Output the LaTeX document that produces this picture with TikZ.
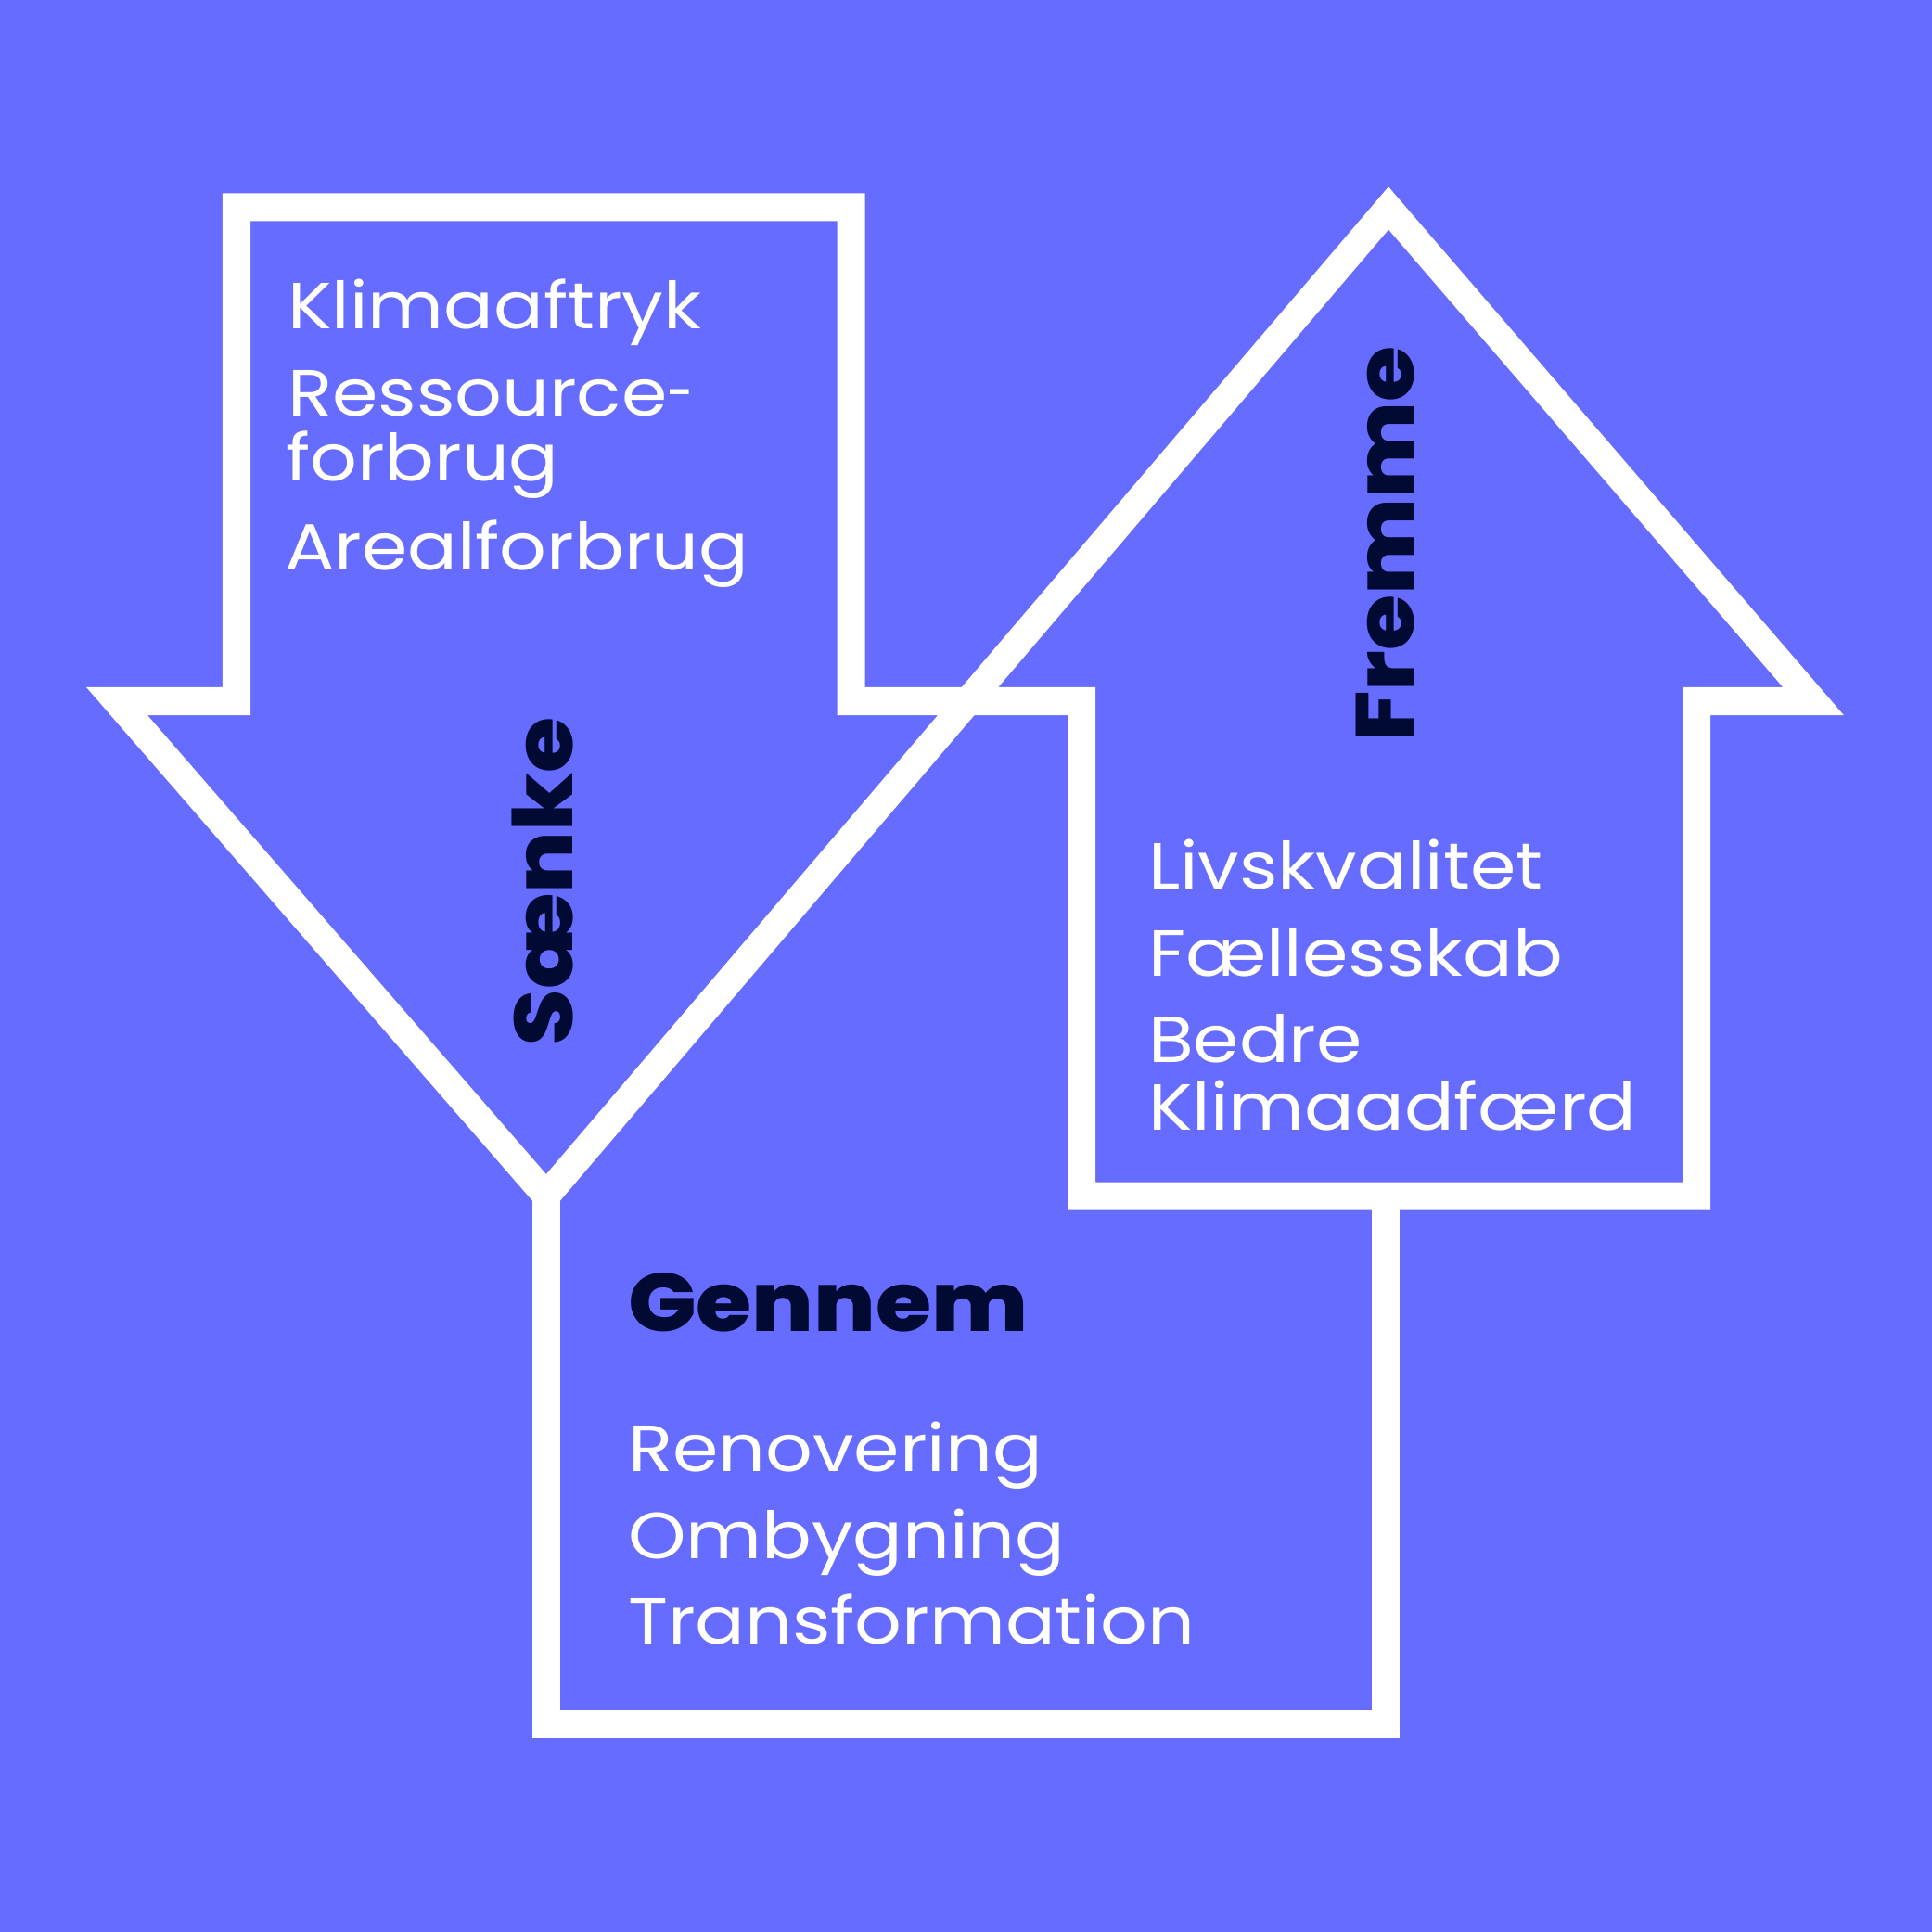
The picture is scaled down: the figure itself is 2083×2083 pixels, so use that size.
\documentclass[tikz,border=0pt]{standalone}
\usepackage{fontspec}
\setmainfont{Poppins}
\newfontfamily\itemfont{Poppins}[FakeStretch=1.13]
\newfontfamily\headfont{Poppins}[FakeStretch=1.10,BoldFont={Poppins ExtraBold}]
\definecolor{bg}{RGB}{102,108,255}
\definecolor{navy}{RGB}{0,10,50}
\begin{document}
\begin{tikzpicture}[x=0.01cm,y=-0.01cm,
  frame/.style={draw=white,line width=0.3cm,miter limit=10},
  item/.style={text=white,anchor=base west,inner sep=0,outer sep=0,font=\itemfont\fontsize{20}{24}\selectfont},
  headlabel/.style={text=navy,anchor=base west,inner sep=0,outer sep=0,font=\headfont\bfseries\fontsize{25.2}{30}\selectfont}]
\fill[bg] (0,0) rectangle (2083,2083);
\useasboundingbox (0,0) rectangle (2083,2083);
% frame corners
\coordinate (dapex) at (589,1289);
\coordinate (dbl) at (126,756);
\coordinate (dsl) at (255,756);
\coordinate (dtl) at (255,223.5);
\coordinate (dtr) at (917.5,223.5);
\coordinate (dsr) at (917.5,756);
\coordinate (usl) at (1166,756);
\coordinate (ubl) at (1166,1289.5);
\coordinate (ubr) at (1829,1289.5);
\coordinate (usr) at (1829,756);
\coordinate (ubrt) at (1955,756);
\coordinate (uapex) at (1497,224.5);
\coordinate (gbl) at (589,1858.5);
\coordinate (gbr) at (1494,1858.5);
\coordinate (gtr) at (1494,1289.5);
\draw[frame] (dapex) -- (dbl) -- (dsl) -- (dtl) -- (dtr) -- (dsr) -- (usl) -- (ubl) -- (ubr) -- (usr) -- (ubrt) -- (uapex) -- cycle;
\draw[frame] (dapex) -- (gbl) -- (gbr) -- (gtr);
% Saenke texts
\node[item] (klima) at (310,355) {Klimaaftryk};
\node[item] (res1) at (310,449) {Ressource\scalebox{0.65}[1]{-}};
\node[item] (res2) at (308,519) {forbrug};
\node[item] (areal) at (307,615) {Arealforbrug};
\node[headlabel,rotate=90] (saenke) at (617,1127) {Sænke};
% Fremme texts
\node[headlabel,rotate=90] (fremme) at (1524,800) {Fremme};
\node[item] (livs) at (1238,958) {Livskvalitet};
\node[item] (faell) at (1238,1052) {Fællesskab};
\node[item] (bedre1) at (1238,1145) {Bedre};
\node[item] (bedre2) at (1238,1218) {Klimaadfærd};
% Gennem texts
\node[headlabel] (gennem) at (677,1435) {Gennem};
\node[item] (renov) at (677,1586) {Renovering};
\node[item] (ombyg) at (677,1680) {Ombygning};
\node[item] (trans) at (677,1772) {Transformation};
\end{tikzpicture}
\end{document}
